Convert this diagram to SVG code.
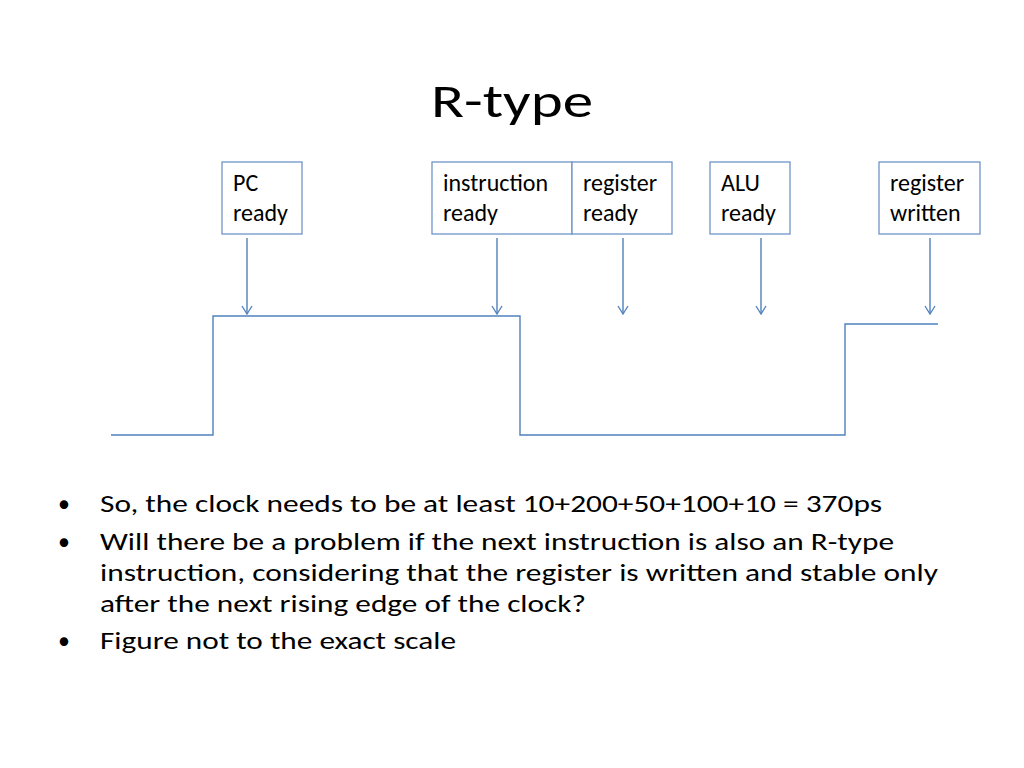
<svg xmlns="http://www.w3.org/2000/svg" width="1024" height="768" viewBox="0 0 1024 768">
<defs>
<marker id="arr" markerWidth="12" markerHeight="12" refX="10" refY="6" orient="auto" markerUnits="userSpaceOnUse" viewBox="0 0 12 12">
<path d="M2,1 L10,6 L2,11" fill="none" stroke="#4f81bd" stroke-width="1.3"/>
</marker>
</defs>
<style>
.box{fill:#fff;stroke:#6f94c8;stroke-width:1.3}
.lbl{font-family:Carlito,Calibri,"Liberation Sans","Open Sans",sans-serif;font-size:24px;fill:#000}
.con{stroke:#4f81bd;stroke-width:1.4;fill:none}
.body{font-family:Carlito,Calibri,"Liberation Sans","Open Sans",sans-serif;font-size:24px;fill:#000}
.title{font-family:Carlito,Calibri,"Liberation Sans","Open Sans",sans-serif;font-size:48px;fill:#000}
</style>
<rect width="1024" height="768" fill="#fff"/>
<text class="title" x="512" y="117" text-anchor="middle" textLength="162" lengthAdjust="spacingAndGlyphs">R-type</text>
<g id="pc-ready">
<rect class="box" x="222" y="162" width="80" height="72"/>
<text class="lbl" x="233" y="191">PC</text>
<text class="lbl" x="233" y="221">ready</text>
</g>
<g id="instruction-ready">
<rect class="box" x="432" y="162" width="140" height="72"/>
<text class="lbl" x="443" y="191">instruction</text>
<text class="lbl" x="443" y="221">ready</text>
</g>
<g id="register-ready">
<rect class="box" x="572" y="162" width="100" height="72"/>
<text class="lbl" x="583" y="191">register</text>
<text class="lbl" x="583" y="221">ready</text>
</g>
<g id="alu-ready">
<rect class="box" x="710" y="162" width="80" height="72"/>
<text class="lbl" x="721" y="191">ALU</text>
<text class="lbl" x="721" y="221">ready</text>
</g>
<g id="register-written">
<rect class="box" x="879" y="162" width="101" height="72"/>
<text class="lbl" x="890" y="191">register</text>
<text class="lbl" x="890" y="221">written</text>
</g>
<g id="connectors">
<line class="con" x1="247" y1="238" x2="247" y2="314" marker-end="url(#arr)"/>
<line class="con" x1="497" y1="238" x2="497" y2="314" marker-end="url(#arr)"/>
<line class="con" x1="623" y1="238" x2="623" y2="314" marker-end="url(#arr)"/>
<line class="con" x1="761" y1="238" x2="761" y2="314" marker-end="url(#arr)"/>
<line class="con" x1="930" y1="238" x2="930" y2="314" marker-end="url(#arr)"/>
</g>
<g id="clock">
<polyline class="con" points="111,435 213,435 213,316 520,316 520,435 845,435 845,324 938,324"/>
</g>
<g id="bullets">
<text class="body" x="58" y="512">•</text>
<text class="body" x="100" y="512" textLength="782" lengthAdjust="spacingAndGlyphs">So, the clock needs to be at least 10+200+50+100+10 = 370ps</text>
<text class="body" x="58" y="550">•</text>
<text class="body" x="100" y="550" textLength="794" lengthAdjust="spacingAndGlyphs">Will there be a problem if the next instruction is also an R-type</text>
<text class="body" x="100" y="581" textLength="838" lengthAdjust="spacingAndGlyphs">instruction, considering that the register is written and stable only</text>
<text class="body" x="100" y="612" textLength="486" lengthAdjust="spacingAndGlyphs">after the next rising edge of the clock?</text>
<text class="body" x="58" y="649">•</text>
<text class="body" x="100" y="649" textLength="356" lengthAdjust="spacingAndGlyphs">Figure not to the exact scale</text>
</g>
</svg>
